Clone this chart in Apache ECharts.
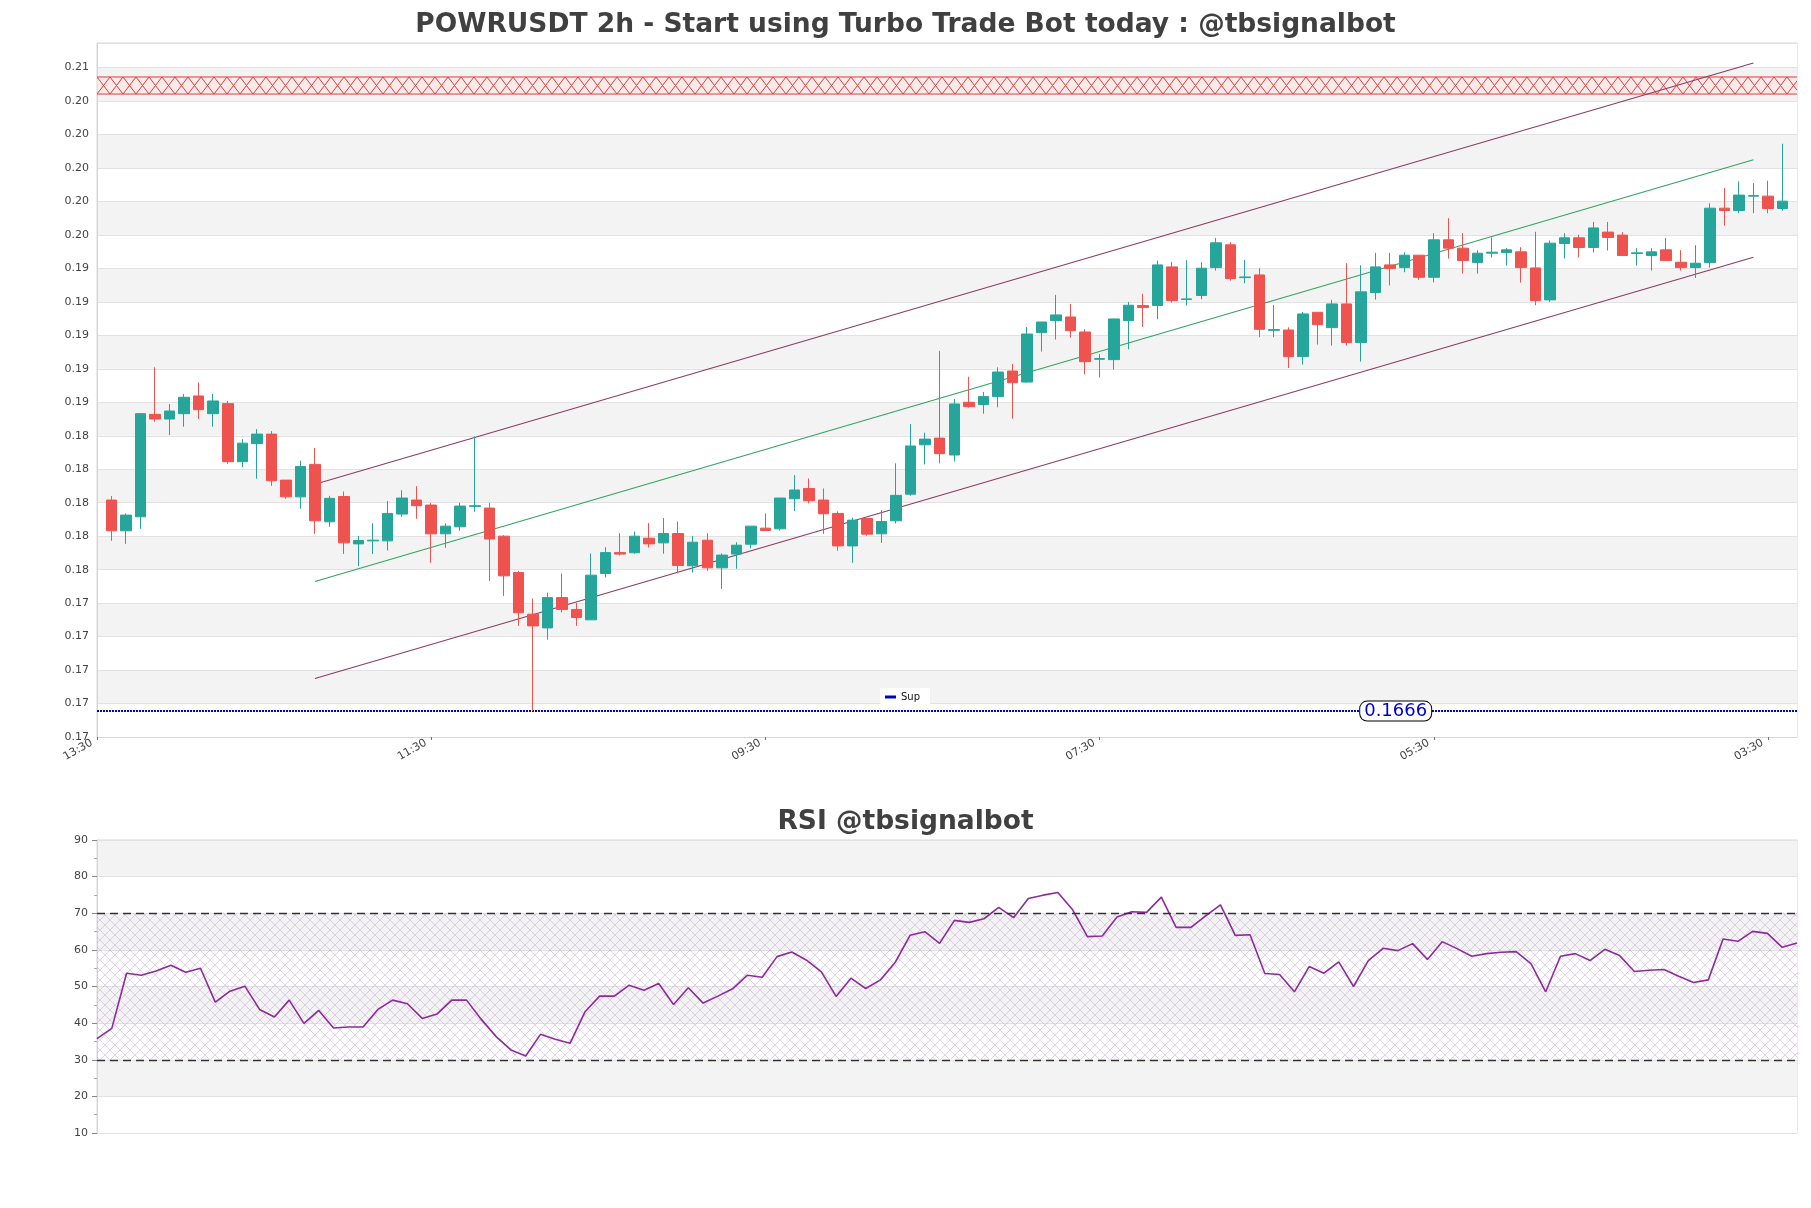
<!DOCTYPE html>
<html><head><meta charset="utf-8">
<script src="https://cdn.jsdelivr.net/npm/echarts@6/dist/echarts.min.js"></script>
<style>html,body{margin:0;padding:0;background:#fff}#chart{width:1811px;height:1208px}</style>
</head><body><div id="chart"></div>
<script>
// ---------- data ----------
const timeCycle = ['13:30','15:30','17:30','19:30','21:30','23:30','01:30','03:30','05:30','07:30','09:30','11:30'];
const categoryCount = 118;
const categories = Array.from({length: categoryCount}, (_, i) => timeCycle[i % timeCycle.length]);
const candleStart = 1;

const opens = [0.17921,0.17737,0.17821,0.18433,0.18405,0.18437,0.18543,0.18437,0.18497,0.18150,
0.18258,0.18315,0.18040,0.17940,0.18134,0.17791,0.17942,0.17659,0.17677,0.17677,
0.17837,0.17921,0.17891,0.17719,0.17761,0.17883,0.17873,0.17705,0.17488,0.17239,
0.17157,0.17338,0.17267,0.17205,0.17482,0.17607,0.17606,0.17693,0.17665,0.17721,
0.17528,0.17681,0.17516,0.17598,0.17657,0.17753,0.17749,0.17929,0.17990,0.17921,
0.17841,0.17647,0.17811,0.17719,0.17797,0.17956,0.18251,0.18291,0.18190,0.18505,
0.18491,0.18539,0.18692,0.18626,0.18921,0.18993,0.19015,0.18925,0.18762,0.18760,
0.18993,0.19083,0.19083,0.19314,0.19119,0.19143,0.19310,0.19446,0.19250,0.19266,
0.18935,0.18937,0.18778,0.19043,0.18951,0.19093,0.18862,0.19161,0.19326,0.19310,
0.19384,0.19252,0.19476,0.19426,0.19340,0.19396,0.19400,0.19404,0.19308,0.19117,
0.19454,0.19488,0.19430,0.19522,0.19504,0.19394,0.19382,0.19416,0.19342,0.19310,
0.19340,0.19665,0.19651,0.19737,0.19737,0.19663];
const closes = [0.17737,0.17831,0.18437,0.18405,0.18453,0.18535,0.18461,0.18513,0.18150,0.18261,
0.18315,0.18036,0.17940,0.18122,0.17797,0.17931,0.17665,0.17679,0.17681,0.17841,
0.17933,0.17887,0.17719,0.17765,0.17885,0.17887,0.17688,0.17468,0.17247,0.17169,
0.17338,0.17267,0.17219,0.17472,0.17607,0.17598,0.17705,0.17659,0.17721,0.17530,
0.17669,0.17516,0.17592,0.17651,0.17765,0.17739,0.17933,0.17981,0.17917,0.17839,
0.17647,0.17801,0.17717,0.17793,0.17949,0.18244,0.18285,0.18198,0.18495,0.18479,
0.18539,0.18686,0.18622,0.18913,0.18985,0.19027,0.18933,0.18748,0.18766,0.19003,
0.19085,0.19071,0.19326,0.19113,0.19123,0.19306,0.19458,0.19244,0.19254,0.18941,
0.18940,0.18778,0.19033,0.18969,0.19093,0.18862,0.19165,0.19314,0.19304,0.19384,
0.19252,0.19476,0.19426,0.19352,0.19396,0.19402,0.19416,0.19310,0.19113,0.19456,
0.19488,0.19430,0.19547,0.19490,0.19382,0.19398,0.19404,0.19352,0.19310,0.19336,
0.19665,0.19651,0.19743,0.19741,0.19663,0.19707];
const lows = [0.17677,0.17659,0.17749,0.18389,0.18309,0.18359,0.18405,0.18359,0.18138,0.18118,
0.18048,0.18006,0.17929,0.17869,0.17719,0.17761,0.17599,0.17526,0.17599,0.17619,
0.17821,0.17809,0.17546,0.17635,0.17737,0.17851,0.17438,0.17348,0.17169,0.16660,
0.17087,0.17249,0.17169,0.17205,0.17458,0.17590,0.17600,0.17637,0.17600,0.17482,
0.17488,0.17498,0.17390,0.17510,0.17633,0.17739,0.17739,0.17855,0.17901,0.17719,
0.17618,0.17546,0.17707,0.17665,0.17781,0.17946,0.18134,0.18140,0.18152,0.18473,
0.18437,0.18475,0.18407,0.18622,0.18808,0.18880,0.18892,0.18672,0.18654,0.18700,
0.18822,0.18955,0.19001,0.19101,0.19083,0.19121,0.19292,0.19232,0.19217,0.18894,
0.18894,0.18710,0.18730,0.18850,0.18844,0.18844,0.18748,0.19119,0.19203,0.19282,
0.19237,0.19222,0.19364,0.19274,0.19274,0.19370,0.19322,0.19220,0.19085,0.19105,
0.19364,0.19370,0.19400,0.19412,0.19382,0.19322,0.19292,0.19352,0.19292,0.19248,
0.19310,0.19561,0.19635,0.19635,0.19635,0.19651];
const highs = [0.17945,0.17841,0.18441,0.18714,0.18495,0.18555,0.18624,0.18555,0.18513,0.18285,
0.18345,0.18333,0.18040,0.18156,0.18232,0.17946,0.17972,0.17707,0.17783,0.17915,
0.17980,0.18004,0.17903,0.17781,0.17905,0.18301,0.17903,0.17711,0.17498,0.17332,
0.17368,0.17482,0.17306,0.17602,0.17639,0.17723,0.17733,0.17783,0.17813,0.17793,
0.17707,0.17723,0.17602,0.17669,0.17765,0.17841,0.17933,0.18070,0.18050,0.17990,
0.17853,0.17815,0.17811,0.17861,0.18140,0.18375,0.18323,0.18812,0.18525,0.18658,
0.18567,0.18714,0.18734,0.18955,0.18985,0.19147,0.19093,0.18941,0.18792,0.19003,
0.19105,0.19153,0.19352,0.19344,0.19354,0.19342,0.19486,0.19462,0.19356,0.19306,
0.19087,0.18953,0.19045,0.19043,0.19117,0.19336,0.19324,0.19398,0.19398,0.19402,
0.19384,0.19516,0.19605,0.19516,0.19414,0.19490,0.19426,0.19432,0.19524,0.19472,
0.19516,0.19506,0.19583,0.19583,0.19522,0.19426,0.19426,0.19486,0.19414,0.19444,
0.19695,0.19785,0.19825,0.19815,0.19829,0.20050];

const rsiValues = [35.76,38.57,53.63,53.09,54.26,55.81,53.90,54.99,45.74,48.73,
50.09,43.74,41.66,46.28,39.93,43.47,38.66,38.93,38.93,43.74,
46.28,45.28,41.29,42.47,46.28,46.28,41.02,36.31,32.68,31.04,
36.94,35.58,34.49,43.02,47.37,47.37,50.36,49.00,50.82,45.10,
49.64,45.47,47.37,49.37,53.09,52.54,58.16,59.43,57.17,54.00,
47.28,52.27,49.45,51.81,56.62,63.97,64.97,61.79,68.05,67.51,
68.50,71.59,68.78,74.04,74.94,75.67,70.95,63.61,63.79,68.96,
70.41,70.23,74.40,66.15,66.15,69.30,72.31,63.97,64.15,53.54,
53.27,48.55,55.44,53.63,56.71,50.00,57.08,60.43,59.80,61.70,
57.35,62.25,60.34,58.26,58.98,59.34,59.52,56.26,48.55,58.26,
58.98,57.08,60.16,58.44,54.08,54.45,54.63,52.81,51.09,51.81,
62.97,62.34,65.06,64.51,60.70,61.88];

const supValue = 0.1666;
const supLabel = '0.1666';
const supLabelIndex = 90;
const resistanceZone = [0.20347, 0.20449];
const channelIdx = [15, 114];
const channelUpper = [0.18015, 0.20533];
const channelMid = [0.17434, 0.19954];
const channelLower = [0.16854, 0.19372];
const rsiLevels = [70, 30];
const rsiBand = [30, 70];

// ---------- build ----------
const candleData = opens.map((o, k) => [k + candleStart, o, closes[k], lows[k], highs[k]]);
const rsiCategories = rsiValues.map((_, j) => String(j));

function makeHatch() {
  const c = document.createElement('canvas');
  c.width = 10; c.height = 10;
  const g = c.getContext('2d');
  g.strokeStyle = 'rgba(180,145,200,0.5)';
  g.lineWidth = 0.8;
  g.beginPath();
  g.moveTo(0, 0); g.lineTo(10, 10);
  g.moveTo(10, 0); g.lineTo(0, 10);
  g.stroke();
  return c;
}

const FONT = 'DejaVu Sans';
const chart = echarts.init(document.getElementById('chart'), null, {renderer: 'canvas'});

const option = {
  animation: false,
  backgroundColor: '#ffffff',
  textStyle: {fontFamily: FONT},
  title: [
    {text: 'POWRUSDT 2h - Start using Turbo Trade Bot today : @tbsignalbot', left: 'center', top: 12, padding: 0,
     textStyle: {fontSize: 26.5, fontWeight: 'bold', color: '#404040', fontFamily: FONT}},
    {text: 'RSI @tbsignalbot', left: 'center', top: 809, padding: 0,
     textStyle: {fontSize: 26.5, fontWeight: 'bold', color: '#404040', fontFamily: FONT}}
  ],
  legend: {
    data: ['Sup'], left: 880, top: 688, padding: [4, 10, 4, 5], backgroundColor: '#ffffff',
    icon: 'rect', itemWidth: 11, itemHeight: 3, itemGap: 5,
    textStyle: {fontSize: 10, color: '#111', fontFamily: FONT}
  },
  grid: [
    {left: 97, right: 14, top: 43, height: 694, show: true, borderColor: '#d6d6d6', borderWidth: 1, containLabel: false, outerBoundsMode: 'none'},
    {left: 97, right: 14, top: 840, height: 293, show: true, borderColor: '#d6d6d6', borderWidth: 1, containLabel: false, outerBoundsMode: 'none'}
  ],
  xAxis: [
    {type: 'category', gridIndex: 0, data: categories, boundaryGap: false,
     axisLine: {show: true, lineStyle: {color: '#d6d6d6'}},
     axisTick: {show: true, interval: 22, length: 3, lineStyle: {color: '#777'}},
     axisLabel: {interval: 22, rotate: 30, fontSize: 11, color: '#444', margin: 2, fontFamily: FONT,
                 padding: [0, 6, 0, 0], overflow: 'none', width: 200, hideOverlap: false},
     splitLine: {show: false}},
    {type: 'category', gridIndex: 1, data: rsiCategories, boundaryGap: false,
     axisLine: {show: false}, axisTick: {show: false}, axisLabel: {show: false}, splitLine: {show: false}}
  ],
  yAxis: [
    {type: 'value', gridIndex: 0, min: 0.16505, max: 0.20652, interval: 0.002, scale: true,
     axisLine: {show: true, lineStyle: {color: '#d6d6d6'}},
     axisTick: {show: false},
     axisLabel: {fontSize: 11, color: '#444', margin: 8, showMaxLabel: false, fontFamily: FONT,
                 formatter: v => v.toFixed(2)},
     splitLine: {show: true, lineStyle: {color: '#e2e2e2', width: 1}},
     splitArea: {show: true, areaStyle: {color: ['#ffffff', '#f3f3f3']}}},
    {type: 'value', gridIndex: 1, min: 10, max: 90, interval: 10,
     axisLine: {show: true, lineStyle: {color: '#d6d6d6'}},
     axisTick: {show: true, length: 5, lineStyle: {color: '#888'}},
     minorTick: {show: true, splitNumber: 2, length: 3, lineStyle: {color: '#aaa'}},
     axisLabel: {fontSize: 11, color: '#444', margin: 9, fontFamily: FONT},
     splitLine: {show: true, lineStyle: {color: '#e2e2e2', width: 1}},
     splitArea: {show: true, areaStyle: {color: ['#ffffff', '#f3f3f3']}}}
  ],
  series: [
    {type: 'custom', xAxisIndex: 0, yAxisIndex: 0, silent: true, z: 1, clip: true,
     data: [[0, categoryCount - 1, resistanceZone[0], resistanceZone[1]]],
     encode: {x: [0, 1], y: [2, 3]},
     renderItem: function (params, api) {
       const a = api.coord([api.value(0), api.value(3)]);
       const b = api.coord([api.value(1), api.value(2)]);
       const x0 = a[0], x1 = b[0], yt = a[1], yb = b[1];
       const w = 13;
       const st = {stroke: '#e03c3c', lineWidth: 1, fill: null};
       const children = [
         {type: 'rect', shape: {x: x0, y: yt, width: x1 - x0, height: yb - yt}, style: {fill: 'rgba(255,225,225,0.55)', stroke: null}},
         {type: 'line', shape: {x1: x0, y1: yt, x2: x1, y2: yt}, style: st},
         {type: 'line', shape: {x1: x0, y1: yb, x2: x1, y2: yb}, style: st}
       ];
       for (let x = x0; x < x1; x += w) {
         const xe = Math.min(x + w, x1);
         const f = (xe - x) / w;
         children.push({type: 'line', shape: {x1: x, y1: yt, x2: xe, y2: yt + (yb - yt) * f}, style: st});
         children.push({type: 'line', shape: {x1: x + w, y1: yt, x2: x, y2: yb}, style: st});
       }
       return {type: 'group', children: children};
     }},
    {type: 'line', xAxisIndex: 0, yAxisIndex: 0, silent: true, z: 2, symbol: 'none',
     data: [[channelIdx[0], channelUpper[0]], [channelIdx[1], channelUpper[1]]],
     lineStyle: {color: '#8a3d63', width: 1.1}},
    {type: 'line', xAxisIndex: 0, yAxisIndex: 0, silent: true, z: 2, symbol: 'none',
     data: [[channelIdx[0], channelMid[0]], [channelIdx[1], channelMid[1]]],
     lineStyle: {color: '#34a462', width: 1.1}},
    {type: 'line', xAxisIndex: 0, yAxisIndex: 0, silent: true, z: 2, symbol: 'none',
     data: [[channelIdx[0], channelLower[0]], [channelIdx[1], channelLower[1]]],
     lineStyle: {color: '#8a3d63', width: 1.1}},
    {name: 'Sup', type: 'line', xAxisIndex: 0, yAxisIndex: 0, silent: true, z: 3, symbol: 'none',
     color: '#0000cc',
     data: [[0, supValue], [categoryCount - 1, supValue]],
     lineStyle: {color: '#0000cc', width: 2, type: [2, 1]},
     markPoint: {silent: true, symbol: 'rect', symbolSize: 0,
       data: [{coord: [supLabelIndex, supValue], value: supLabel}],
       label: {show: true, position: 'inside', offset: [-9, 0], formatter: supLabel,
         color: '#0000cc', fontSize: 18, fontFamily: FONT,
         backgroundColor: '#ffffff', borderColor: '#000000', borderWidth: 1, borderRadius: 7,
         padding: [1, 4, 0, 4]}}},
    {type: 'candlestick', xAxisIndex: 0, yAxisIndex: 0, z: 4, silent: true,
     data: candleData, encode: {x: 0, y: [1, 2, 3, 4]},
     barWidth: 11,
     itemStyle: {color: '#26a69a', color0: '#ef5350', borderColor: '#26a69a', borderColor0: '#ef5350', borderColorDoji: '#26a69a', borderWidth: 1}},
    {type: 'line', xAxisIndex: 1, yAxisIndex: 1, z: 3, symbol: 'none', silent: true,
     data: rsiValues,
     lineStyle: {color: '#8e2a9c', width: 1.6},
     markLine: {silent: true, symbol: 'none', label: {show: false},
       lineStyle: {color: '#333', width: 1.3, type: [8, 5]},
       data: rsiLevels.map(v => ({yAxis: v}))},
     markArea: {silent: true, itemStyle: {color: {image: makeHatch(), repeat: 'repeat'}},
       data: [[{yAxis: rsiBand[0]}, {yAxis: rsiBand[1]}]]}}
  ]
};
chart.setOption(option);
</script>
</body></html>
